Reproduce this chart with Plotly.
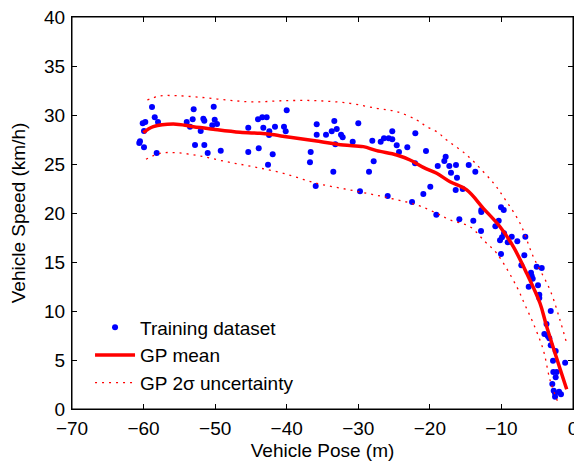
import plotly.graph_objects as go

# Training data (Vehicle pose [m], vehicle speed [km/h])
train_x = [-58.82, -60.12, -59.76, -59.94, -58.44, -57.98, -60.50, -60.60, -59.94, -58.17,
           -53.97, -53.51, -53.00, -53.14, -52.02, -51.65, -51.51, -52.81, -51.51, -51.04,
           -50.20, -50.06, -50.40, -49.74, -49.22, -45.37, -45.37, -44.01, -43.91, -43.41,
           -42.80, -40.00, -43.27, -42.43, -42.47, -41.64, -40.38, -40.14, -41.96, -42.61,
           -35.81, -35.81, -36.65, -36.75, -35.95, -34.51, -33.71, -33.35, -33.01, -32.41,
           -32.18, -33.21, -33.49, -30.78, -30.00, -29.76, -28.50, -27.85, -28.04, -26.87,
           -26.41, -25.75, -25.25, -25.25, -24.63, -24.31, -25.89, -23.15, -22.03, -22.07,
           -22.49, -20.54, -19.94, -20.91, -19.10, -18.90, -17.98, -17.79, -17.28, -16.35,
           -17.05, -16.21, -14.57, -13.65, -16.39, -15.41, -15.88, -13.93, -12.81, -12.81,
           -12.85, -10.06, -9.68, -10.38, -10.85, -9.64, -9.92, -10.20, -8.56, -9.12,
           -7.78, -6.66, -10.06, -6.80, -7.22, -5.07, -4.37, -5.87, -5.77, -5.63,
           -6.19, -4.89, -4.71, -4.71, -3.11, -3.70, -4.00, -3.53, -3.31, -3.11,
           -2.42, -2.79, -1.10, -2.75, -2.28, -2.42, -2.89, -2.70, -2.51, -2.51,
           -1.95, -1.68]
train_y = [30.82, 29.15, 29.29, 28.37, 29.77, 29.29, 27.32, 27.14, 26.70, 26.12,
           29.29, 28.81, 30.58, 29.56, 28.37, 29.62, 29.42, 26.94, 26.94, 26.12,
           30.85, 29.52, 28.95, 29.08, 26.36, 28.70, 26.22, 29.56, 26.60, 29.77,
           29.77, 30.48, 28.70, 28.34, 27.96, 28.81, 28.81, 28.34, 25.99, 24.93,
           29.05, 27.99, 26.22, 25.17, 22.76, 27.99, 28.34, 29.39, 28.57, 27.99,
           27.72, 27.01, 24.21, 27.28, 29.15, 22.21, 24.21, 25.28, 27.38, 27.28,
           27.62, 27.62, 28.34, 27.52, 26.91, 26.22, 21.73, 26.70, 28.13, 25.07,
           21.12, 26.33, 22.68, 21.94, 19.83, 24.80, 25.31, 25.74, 24.80, 24.90,
           24.11, 23.60, 24.90, 24.21, 22.35, 22.45, 19.36, 19.21, 20.31, 20.10,
           18.16, 20.58, 20.31, 19.21, 18.64, 17.93, 17.52, 17.21, 17.58, 17.01,
           17.11, 17.58, 15.82, 15.68, 14.66, 14.52, 14.39, 13.91, 13.57, 13.30,
           12.48, 12.62, 11.66, 11.33, 10.00, 8.67, 7.65, 7.45, 7.21, 6.50,
           5.92, 4.93, 4.72, 3.78, 3.78, 3.23, 2.55, 1.87, 1.60, 1.26,
           1.77, 1.50]

# GP mean
mean_x = [-60.04, -58.64, -55.85, -53.05, -50.26, -46.53, -43.73, -42.33, -39.54, -35.81,
          -32.09, -29.30, -27.43, -24.63, -22.77, -20.91, -19.04, -17.18, -14.85, -12.53,
          -10.20, -8.34, -6.47, -4.61, -3.67, -0.88]
mean_y = [28.19, 28.81, 29.08, 28.81, 28.54, 28.23, 28.13, 28.03, 27.72, 27.35,
          26.94, 26.77, 26.36, 25.92, 25.41, 24.66, 24.05, 23.19, 22.35, 20.48,
          18.60, 16.56, 13.85, 10.79, 8.40, 2.01]

# GP 2-sigma bounds
upper_x = [-59.48, -57.70, -55.37, -52.12, -48.38, -44.67, -40.48, -35.81, -31.16, -27.43,
           -24.63, -21.84, -20.44, -19.04, -17.65, -14.85, -12.53, -10.90, -9.74, -7.40,
           -5.55, -3.21, -1.82, -0.88]
upper_y = [31.53, 31.94, 31.97, 31.81, 31.53, 31.33, 31.46, 31.46, 31.19, 30.68,
           30.34, 29.49, 28.81, 28.30, 27.45, 25.92, 24.21, 22.86, 21.66, 18.95,
           15.54, 12.14, 9.08, 6.70]
lower_x = [-59.66, -57.70, -55.37, -52.12, -48.38, -44.67, -40.48, -35.81, -31.16, -26.50,
           -21.84, -19.04, -17.18, -14.39, -12.29, -10.66, -7.86, -6.71, -5.55, -4.15,
           -3.21, -2.05]
lower_y = [25.48, 26.09, 26.15, 25.82, 25.23, 24.72, 24.05, 23.03, 22.35, 21.66,
           20.82, 19.97, 19.29, 18.60, 17.07, 15.89, 12.48, 10.61, 8.74, 6.02,
           2.96, 0.58]

X_RANGE = [-70, 0]
Y_RANGE = [0, 40]

FONT = "Liberation Sans, Arial, Helvetica, sans-serif"
dotted = dict(color="red", width=1.3, dash="2px,5px")

fig = go.Figure()
fig.add_trace(go.Scatter(x=train_x, y=train_y, mode="markers", name="Training dataset",
                         marker=dict(color="blue", size=6)))
fig.add_trace(go.Scatter(x=mean_x, y=mean_y, mode="lines", name="GP mean",
                         line=dict(color="red", width=3.5, shape="spline")))
fig.add_trace(go.Scatter(x=upper_x, y=upper_y, mode="lines", name="GP 2σ uncertainty",
                         line=dict(shape="spline", **dotted), legendgroup="unc"))
fig.add_trace(go.Scatter(x=lower_x, y=lower_y, mode="lines", name="GP 2σ uncertainty",
                         line=dict(shape="spline", **dotted), legendgroup="unc",
                         showlegend=False))

axis_common = dict(showline=True, linecolor="black", linewidth=1, mirror="allticks",
                   ticks="inside", ticklen=5, tickcolor="black", showgrid=False,
                   zeroline=False, automargin=False, ticklabelstandoff=2,
                   ticklabeloverflow="allow",
                   tickfont=dict(size=19, color="black", family=FONT),
                   title_font=dict(size=19, color="black", family=FONT))

fig.update_xaxes(range=X_RANGE, dtick=10, tick0=0, title_text="Vehicle Pose (m)",
                 title_standoff=5, **axis_common)
fig.update_yaxes(range=Y_RANGE, dtick=5, tick0=0, title_text="Vehicle Speed (km/h)",
                 title_standoff=14, **axis_common)

# page body adds an 8px margin, so the figure is sized to fit the 582x463 window
fig.update_layout(
    width=574, height=455,
    margin=dict(l=64, r=9, t=9, b=54),
    plot_bgcolor="white", paper_bgcolor="white",
    font=dict(family=FONT, color="black", size=19),
    legend=dict(x=0.036, y=0.017, xanchor="left", yanchor="bottom",
                bgcolor="rgba(0,0,0,0)", font=dict(size=19, family=FONT),
                itemwidth=40, tracegroupgap=0),
    showlegend=True,
    # top axis: box line and inward ticks along the top edge
    xaxis2=dict(overlaying="x", side="top", range=X_RANGE, dtick=10, tick0=0,
                showline=True, linecolor="black", linewidth=1, ticks="inside",
                ticklen=5, tickcolor="black", showticklabels=False, showgrid=False,
                zeroline=False, automargin=False),
    shapes=[dict(type="rect", xref="paper", yref="paper", x0=0, x1=1, y0=0, y1=1,
                 line=dict(color="black", width=1), layer="above")],
)

fig.write_html("out.html", config={"displayModeBar": False})
